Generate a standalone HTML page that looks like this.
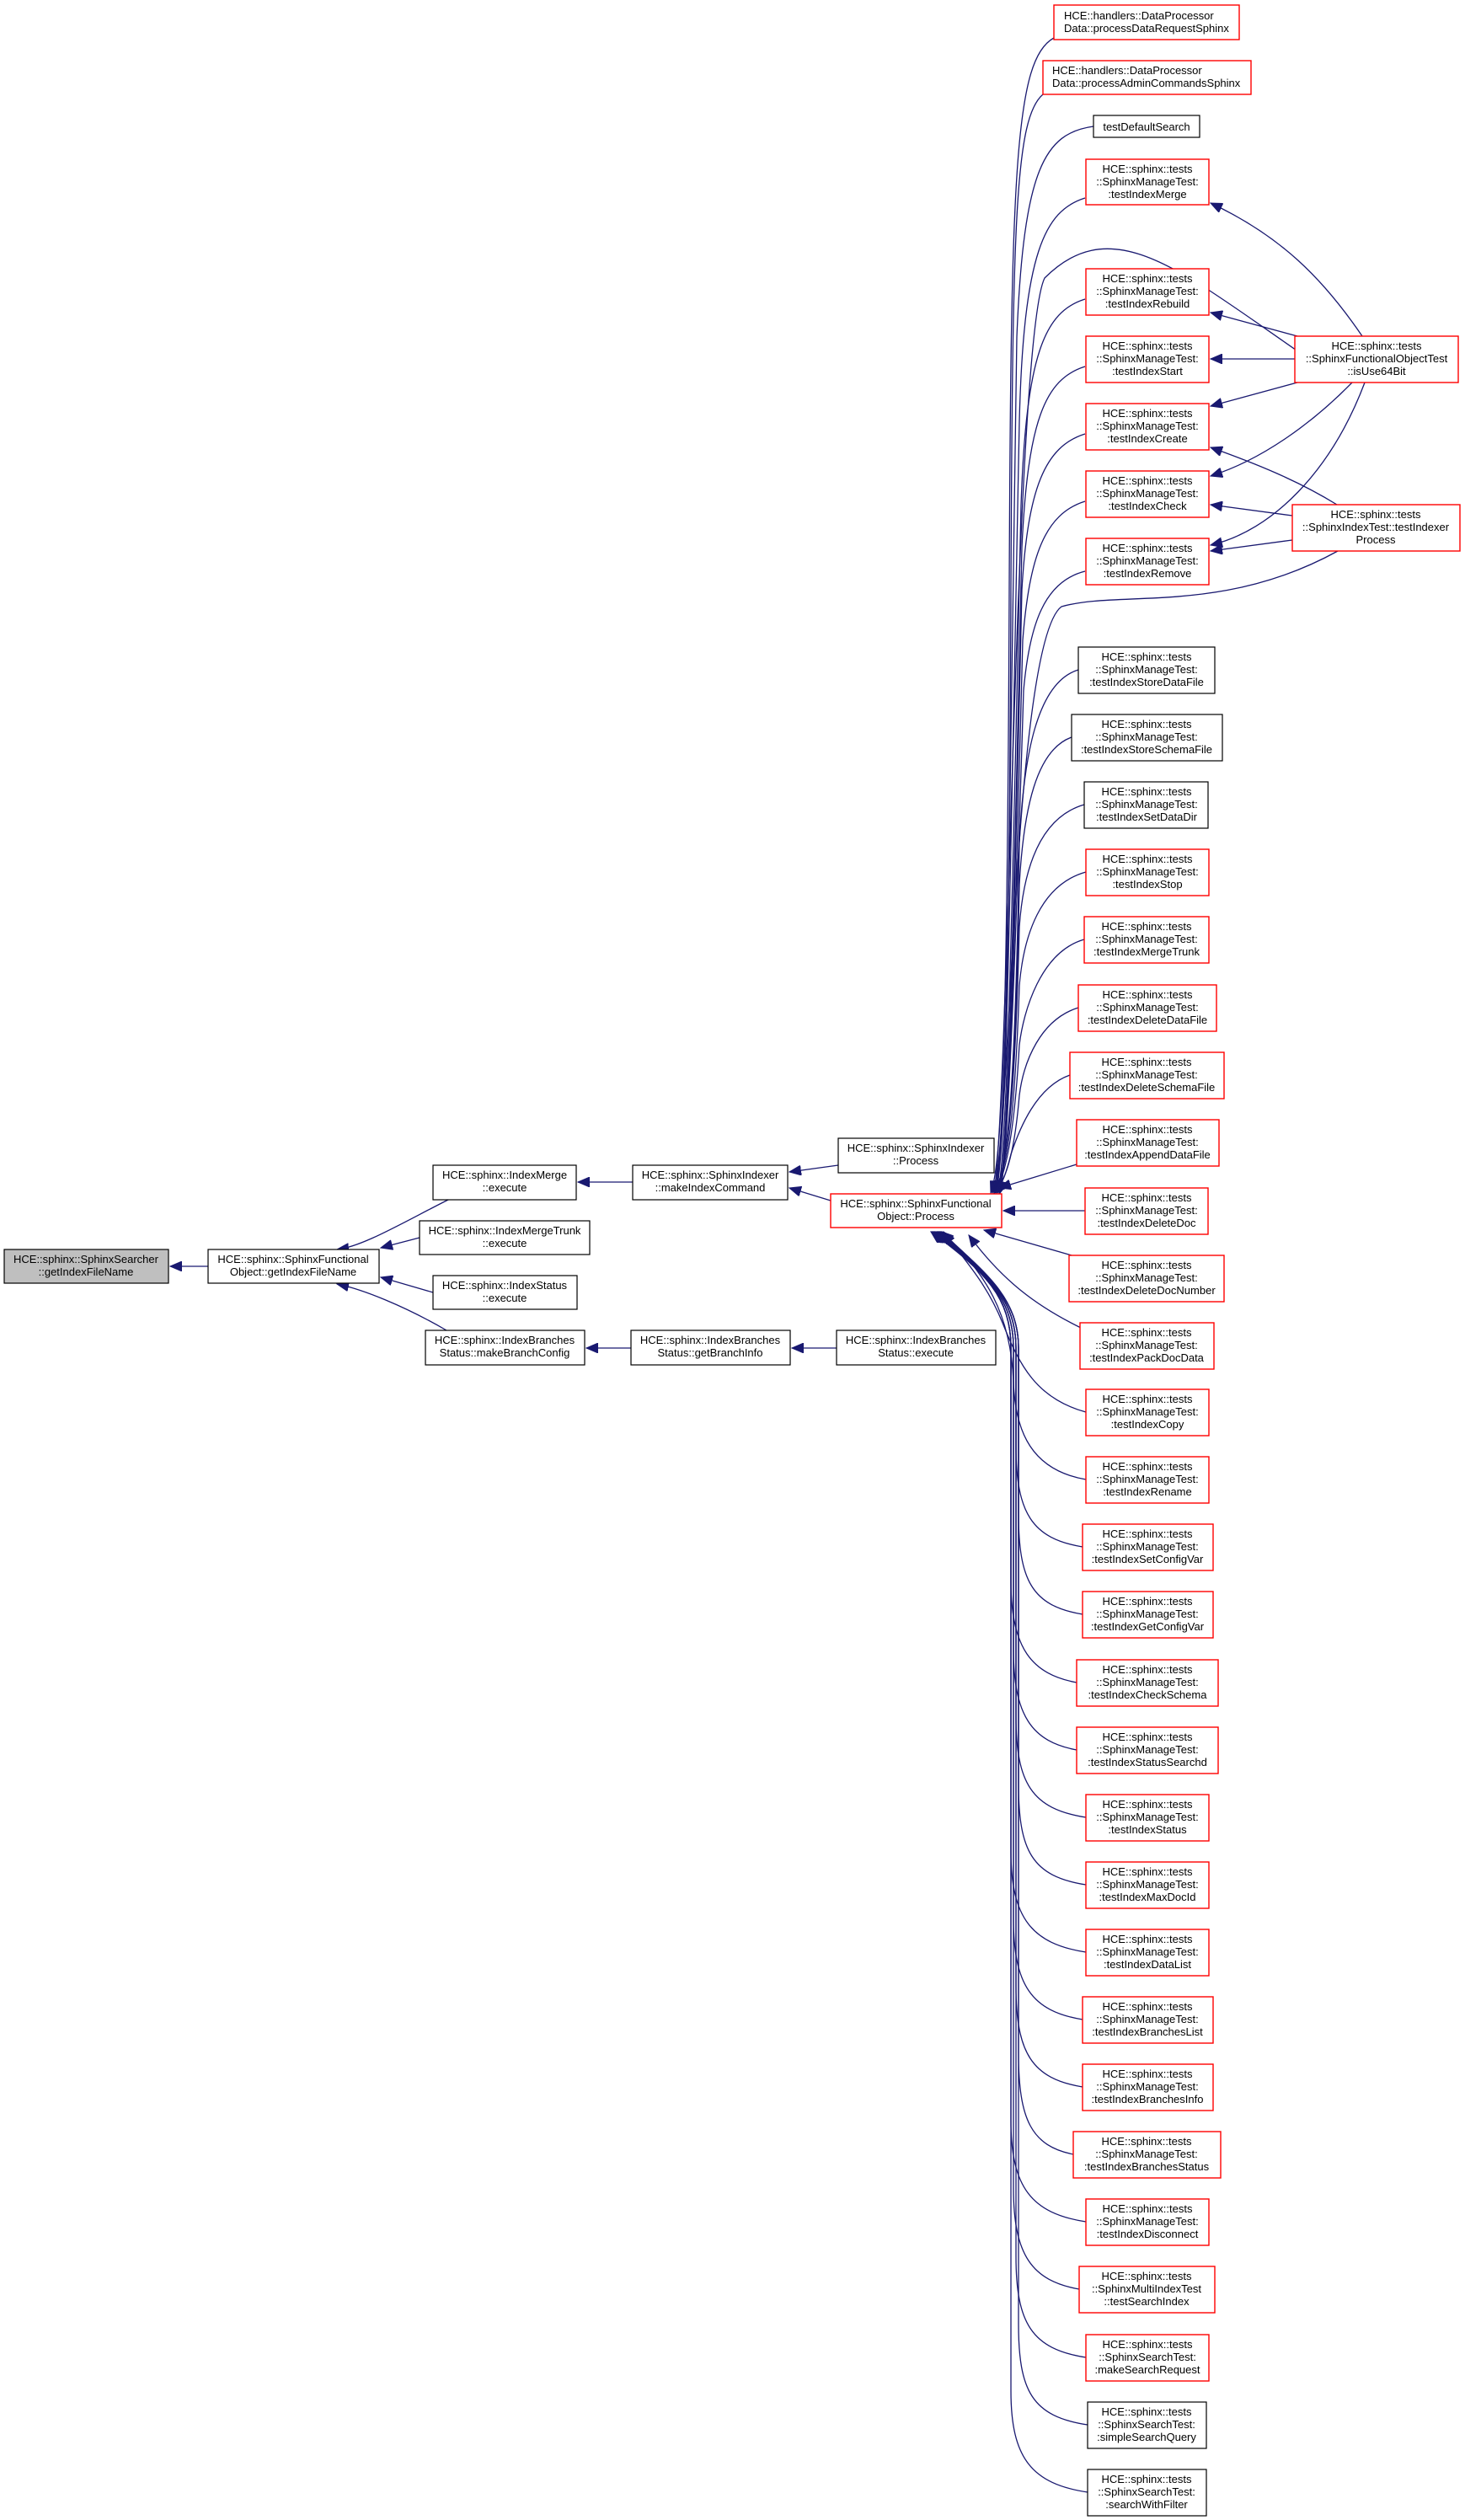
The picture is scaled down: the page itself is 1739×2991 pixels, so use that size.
<!DOCTYPE html>
<html><head><meta charset="utf-8"><style>
html,body{margin:0;padding:0;background:#fff;}
svg{display:block;}
text{font-family:"Liberation Sans",sans-serif;font-size:13px;fill:#000;}
.b{fill:#fff;stroke:#000;stroke-width:1.2;}
.r{fill:#fff;stroke:#ff0000;stroke-width:1.4;}
.g{fill:#bfbfbf;stroke:#000;stroke-width:1.2;}
.e{fill:none;stroke:#191970;stroke-width:1.3;marker-end:url(#ah);}
</style></head><body>
<svg width="1739" height="2991" viewBox="0 0 1739 2991" xmlns="http://www.w3.org/2000/svg">
<defs><marker id="ah" markerUnits="userSpaceOnUse" markerWidth="16" markerHeight="12" refX="14" refY="6" orient="auto"><path d="M0,0 L14,6 L0,12 z" fill="#191970" stroke="#191970"/></marker></defs>

<!-- edges left -->
<path class="e" d="M247,1503 L202,1503"/>
<path class="e" d="M534,1423 C480,1450 430,1480 400,1483"/>
<path class="e" d="M498,1469 L452,1481"/>
<path class="e" d="M514,1534 L452,1516"/>
<path class="e" d="M530,1579 C480,1550 430,1530 400,1524"/>
<path class="e" d="M751,1403 L686,1403"/>
<path class="e" d="M995,1383 L937,1391"/>
<path class="e" d="M986,1425 L937,1410"/>
<path class="e" d="M749,1600 L696,1600"/>
<path class="e" d="M993,1600 L940,1600"/>

<!-- edges to Process from top nodes -->
<path class="e" d="M1251,45 C1205,70 1200,200 1198,700 C1196,1200 1190,1380 1176,1416"/>
<path class="e" d="M1238,112 C1205,140 1202,260 1200,700 C1198,1200 1192,1380 1178,1416"/>
<path class="e" d="M1298,150 C1240,158 1215,200 1207,400 C1198,1000 1195,1380 1180,1416"/>
<path class="e" d="M1288,235 C1240,250 1215,300 1210,500 C1200,1000 1195,1380 1182,1416"/>
<path class="e" d="M1288,355 C1240,370 1218,420 1212,600 C1202,1050 1196,1380 1184,1416"/>
<path class="e" d="M1288,435 C1240,450 1220,500 1213,650 C1203,1100 1196,1380 1186,1416"/>
<path class="e" d="M1288,515 C1240,530 1220,580 1213,700 C1203,1150 1196,1380 1186,1416"/>
<path class="e" d="M1288,595 C1240,610 1222,660 1214,760 C1204,1150 1196,1380 1187,1416"/>
<path class="e" d="M1288,678 C1240,690 1222,740 1215,820 C1205,1150 1196,1380 1187,1416"/>
<path class="e" d="M1545,420 C1400,320 1320,250 1240,330 C1205,400 1198,1300 1180,1416"/>
<path class="e" d="M1588,654 C1450,730 1330,700 1260,720 C1205,760 1200,1300 1182,1416"/>
<path class="e" d="M1280,795 C1230,810 1215,900 1210,1000 C1205,1300 1196,1390 1180,1416"/>
<path class="e" d="M1272,875 C1230,890 1215,960 1210,1050 C1205,1300 1196,1390 1180,1416"/>
<path class="e" d="M1287,955 C1235,970 1215,1030 1210,1100 C1205,1300 1196,1390 1180,1416"/>
<path class="e" d="M1289,1035 C1235,1050 1215,1110 1210,1170 C1205,1320 1196,1390 1180,1416"/>
<path class="e" d="M1287,1115 C1235,1130 1215,1200 1210,1240 C1205,1330 1196,1395 1180,1416"/>
<path class="e" d="M1280,1196 C1235,1210 1215,1260 1210,1300 C1205,1360 1196,1400 1180,1416"/>
<path class="e" d="M1270,1276 C1230,1290 1210,1340 1200,1370 C1195,1390 1190,1405 1182,1416"/>
<path class="e" d="M1278,1382 L1186,1410"/>
<path class="e" d="M1288,1437 L1191,1437"/>
<path class="e" d="M1272,1490 L1168,1460"/>
<path class="e" d="M1283,1576 C1230,1550 1190,1520 1150,1466"/>
<!-- edges to Process from lower nodes -->
<path class="e" d="M1289,1676 C1230,1660 1210,1620 1190,1570 C1170,1520 1140,1490 1120,1462"/>
<path class="e" d="M1289,1756 C1225,1745 1205,1700 1203,1640 C1200,1560 1170,1510 1118,1462"/>
<path class="e" d="M1285,1836 C1225,1826 1206,1796 1206,1716 L1206,1600 C1206,1540 1170,1510 1117,1462"/>
<path class="e" d="M1285,1916 C1225,1906 1209,1876 1209,1796 L1209,1600 C1209,1540 1170,1510 1116,1462"/>
<path class="e" d="M1278,1997 C1225,1987 1200,1957 1200,1877 L1200,1600 C1200,1540 1170,1510 1115,1462"/>
<path class="e" d="M1278,2077 C1225,2067 1203,2037 1203,1957 L1203,1600 C1203,1540 1170,1510 1114,1462"/>
<path class="e" d="M1289,2157 C1225,2147 1206,2117 1206,2037 L1206,1600 C1206,1540 1170,1510 1113,1462"/>
<path class="e" d="M1289,2237 C1225,2227 1209,2197 1209,2117 L1209,1600 C1209,1540 1170,1510 1112,1462"/>
<path class="e" d="M1289,2317 C1225,2307 1200,2277 1200,2197 L1200,1600 C1200,1540 1170,1510 1111,1462"/>
<path class="e" d="M1285,2397 C1225,2387 1203,2357 1203,2277 L1203,1600 C1203,1540 1170,1510 1110,1462"/>
<path class="e" d="M1285,2477 C1225,2467 1206,2437 1206,2357 L1206,1600 C1206,1540 1170,1510 1110,1462"/>
<path class="e" d="M1274,2557 C1225,2547 1209,2517 1209,2437 L1209,1600 C1209,1540 1170,1510 1109,1462"/>
<path class="e" d="M1289,2637 C1225,2627 1200,2597 1200,2517 L1200,1600 C1200,1540 1170,1510 1108,1462"/>
<path class="e" d="M1281,2717 C1225,2707 1203,2677 1203,2597 L1203,1600 C1203,1540 1170,1510 1108,1462"/>
<path class="e" d="M1289,2798 C1225,2788 1206,2758 1206,2678 L1206,1600 C1206,1540 1170,1510 1107,1462"/>
<path class="e" d="M1291,2878 C1225,2868 1209,2838 1209,2758 L1209,1600 C1209,1540 1170,1510 1106,1462"/>
<path class="e" d="M1291,2958 C1225,2948 1200,2918 1200,2838 L1200,1600 C1200,1540 1170,1510 1105,1462"/>

<!-- right edges -->
<path class="e" d="M1617,399 C1570,330 1520,280 1437,241"/>
<path class="e" d="M1540,399 L1437,371"/>
<path class="e" d="M1537,426 L1437,426"/>
<path class="e" d="M1540,454 L1437,482"/>
<path class="e" d="M1605,454 C1560,500 1500,545 1437,565"/>
<path class="e" d="M1620,454 C1580,560 1510,630 1437,647"/>
<path class="e" d="M1587,599 C1540,570 1490,550 1437,531"/>
<path class="e" d="M1534,612 L1437,599"/>
<path class="e" d="M1534,641 L1437,654"/>

<!-- left nodes -->
<rect class="g" x="5" y="1483" width="195" height="40"/>
<text x="102" y="1499" text-anchor="middle">HCE::sphinx::SphinxSearcher</text><text x="102" y="1514" text-anchor="middle">::getIndexFileName</text>
<rect class="b" x="247" y="1483" width="203" height="40"/>
<text x="348" y="1499" text-anchor="middle">HCE::sphinx::SphinxFunctional</text><text x="348" y="1514" text-anchor="middle">Object::getIndexFileName</text>
<rect class="b" x="514" y="1383" width="170" height="41"/>
<text x="599" y="1399" text-anchor="middle">HCE::sphinx::IndexMerge</text><text x="599" y="1414" text-anchor="middle">::execute</text>
<rect class="b" x="498" y="1449" width="202" height="40"/>
<text x="599" y="1465" text-anchor="middle">HCE::sphinx::IndexMergeTrunk</text><text x="599" y="1480" text-anchor="middle">::execute</text>
<rect class="b" x="514" y="1514" width="171" height="40"/>
<text x="599" y="1530" text-anchor="middle">HCE::sphinx::IndexStatus</text><text x="599" y="1545" text-anchor="middle">::execute</text>
<rect class="b" x="505" y="1579" width="189" height="41"/>
<text x="599" y="1595" text-anchor="middle">HCE::sphinx::IndexBranches</text><text x="599" y="1610" text-anchor="middle">Status::makeBranchConfig</text>
<rect class="b" x="751" y="1383" width="184" height="41"/>
<text x="843" y="1399" text-anchor="middle">HCE::sphinx::SphinxIndexer</text><text x="843" y="1414" text-anchor="middle">::makeIndexCommand</text>
<rect class="b" x="749" y="1579" width="189" height="41"/>
<text x="843" y="1595" text-anchor="middle">HCE::sphinx::IndexBranches</text><text x="843" y="1610" text-anchor="middle">Status::getBranchInfo</text>
<rect class="b" x="995" y="1351" width="185" height="41"/>
<text x="1087" y="1367" text-anchor="middle">HCE::sphinx::SphinxIndexer</text><text x="1087" y="1382" text-anchor="middle">::Process</text>
<rect class="r" x="986" y="1417" width="203" height="40"/>
<text x="1087" y="1433" text-anchor="middle">HCE::sphinx::SphinxFunctional</text><text x="1087" y="1448" text-anchor="middle">Object::Process</text>
<rect class="b" x="993" y="1579" width="189" height="41"/>
<text x="1087" y="1595" text-anchor="middle">HCE::sphinx::IndexBranches</text><text x="1087" y="1610" text-anchor="middle">Status::execute</text>

<!-- top right nodes -->
<rect class="r" x="1251" y="6" width="220" height="41"/>
<text x="1263" y="23">HCE::handlers::DataProcessor</text><text x="1263" y="38">Data::processDataRequestSphinx</text>
<rect class="r" x="1238" y="72" width="247" height="40"/>
<text x="1249" y="88">HCE::handlers::DataProcessor</text><text x="1249" y="103">Data::processAdminCommandsSphinx</text>
<rect class="b" x="1298" y="137" width="126" height="26"/>
<text x="1361" y="155" text-anchor="middle">testDefaultSearch</text>

<g text-anchor="middle">
<rect class="r" x="1289" y="189" width="146" height="54"/><text x="1362" y="205">HCE::sphinx::tests</text><text x="1362" y="220">::SphinxManageTest:</text><text x="1362" y="235">:testIndexMerge</text>
<rect class="r" x="1289" y="319" width="146" height="55"/><text x="1362" y="335">HCE::sphinx::tests</text><text x="1362" y="350">::SphinxManageTest:</text><text x="1362" y="365">:testIndexRebuild</text>
<rect class="r" x="1289" y="399" width="146" height="55"/><text x="1362" y="415">HCE::sphinx::tests</text><text x="1362" y="430">::SphinxManageTest:</text><text x="1362" y="445">:testIndexStart</text>
<rect class="r" x="1289" y="479" width="146" height="55"/><text x="1362" y="495">HCE::sphinx::tests</text><text x="1362" y="510">::SphinxManageTest:</text><text x="1362" y="525">:testIndexCreate</text>
<rect class="r" x="1289" y="559" width="146" height="55"/><text x="1362" y="575">HCE::sphinx::tests</text><text x="1362" y="590">::SphinxManageTest:</text><text x="1362" y="605">:testIndexCheck</text>
<rect class="r" x="1289" y="639" width="146" height="55"/><text x="1362" y="655">HCE::sphinx::tests</text><text x="1362" y="670">::SphinxManageTest:</text><text x="1362" y="685">:testIndexRemove</text>

<rect class="r" x="1537" y="399" width="194" height="55"/><text x="1634" y="415">HCE::sphinx::tests</text><text x="1634" y="430">::SphinxFunctionalObjectTest</text><text x="1634" y="445">::isUse64Bit</text>
<rect class="r" x="1534" y="599" width="199" height="55"/><text x="1633" y="615">HCE::sphinx::tests</text><text x="1633" y="630">::SphinxIndexTest::testIndexer</text><text x="1633" y="645">Process</text>

<rect class="b" x="1280" y="768" width="162" height="55"/><text x="1361" y="784">HCE::sphinx::tests</text><text x="1361" y="799">::SphinxManageTest:</text><text x="1361" y="814">:testIndexStoreDataFile</text>
<rect class="b" x="1272" y="848" width="179" height="55"/><text x="1361" y="864">HCE::sphinx::tests</text><text x="1361" y="879">::SphinxManageTest:</text><text x="1361" y="894">:testIndexStoreSchemaFile</text>
<rect class="b" x="1287" y="928" width="147" height="55"/><text x="1361" y="944">HCE::sphinx::tests</text><text x="1361" y="959">::SphinxManageTest:</text><text x="1361" y="974">:testIndexSetDataDir</text>
<rect class="r" x="1289" y="1008" width="146" height="55"/><text x="1362" y="1024">HCE::sphinx::tests</text><text x="1362" y="1039">::SphinxManageTest:</text><text x="1362" y="1054">:testIndexStop</text>
<rect class="r" x="1287" y="1088" width="148" height="55"/><text x="1361" y="1104">HCE::sphinx::tests</text><text x="1361" y="1119">::SphinxManageTest:</text><text x="1361" y="1134">:testIndexMergeTrunk</text>
<rect class="r" x="1280" y="1169" width="164" height="55"/><text x="1362" y="1185">HCE::sphinx::tests</text><text x="1362" y="1200">::SphinxManageTest:</text><text x="1362" y="1215">:testIndexDeleteDataFile</text>
<rect class="r" x="1270" y="1249" width="183" height="55"/><text x="1361" y="1265">HCE::sphinx::tests</text><text x="1361" y="1280">::SphinxManageTest:</text><text x="1361" y="1295">:testIndexDeleteSchemaFile</text>
<rect class="r" x="1278" y="1329" width="169" height="55"/><text x="1362" y="1345">HCE::sphinx::tests</text><text x="1362" y="1360">::SphinxManageTest:</text><text x="1362" y="1375">:testIndexAppendDataFile</text>
<rect class="r" x="1288" y="1410" width="146" height="55"/><text x="1361" y="1426">HCE::sphinx::tests</text><text x="1361" y="1441">::SphinxManageTest:</text><text x="1361" y="1456">:testIndexDeleteDoc</text>
<rect class="r" x="1269" y="1490" width="184" height="55"/><text x="1361" y="1506">HCE::sphinx::tests</text><text x="1361" y="1521">::SphinxManageTest:</text><text x="1361" y="1536">:testIndexDeleteDocNumber</text>
<rect class="r" x="1282" y="1570" width="159" height="55"/><text x="1361" y="1586">HCE::sphinx::tests</text><text x="1361" y="1601">::SphinxManageTest:</text><text x="1361" y="1616">:testIndexPackDocData</text>
<rect class="r" x="1289" y="1649" width="146" height="55"/><text x="1362" y="1665">HCE::sphinx::tests</text><text x="1362" y="1680">::SphinxManageTest:</text><text x="1362" y="1695">:testIndexCopy</text>
<rect class="r" x="1289" y="1729" width="146" height="55"/><text x="1362" y="1745">HCE::sphinx::tests</text><text x="1362" y="1760">::SphinxManageTest:</text><text x="1362" y="1775">:testIndexRename</text>
<rect class="r" x="1285" y="1809" width="155" height="55"/><text x="1362" y="1825">HCE::sphinx::tests</text><text x="1362" y="1840">::SphinxManageTest:</text><text x="1362" y="1855">:testIndexSetConfigVar</text>
<rect class="r" x="1285" y="1889" width="155" height="55"/><text x="1362" y="1905">HCE::sphinx::tests</text><text x="1362" y="1920">::SphinxManageTest:</text><text x="1362" y="1935">:testIndexGetConfigVar</text>
<rect class="r" x="1278" y="1970" width="168" height="55"/><text x="1362" y="1986">HCE::sphinx::tests</text><text x="1362" y="2001">::SphinxManageTest:</text><text x="1362" y="2016">:testIndexCheckSchema</text>
<rect class="r" x="1278" y="2050" width="168" height="55"/><text x="1362" y="2066">HCE::sphinx::tests</text><text x="1362" y="2081">::SphinxManageTest:</text><text x="1362" y="2096">:testIndexStatusSearchd</text>
<rect class="r" x="1289" y="2130" width="146" height="55"/><text x="1362" y="2146">HCE::sphinx::tests</text><text x="1362" y="2161">::SphinxManageTest:</text><text x="1362" y="2176">:testIndexStatus</text>
<rect class="r" x="1289" y="2210" width="146" height="55"/><text x="1362" y="2226">HCE::sphinx::tests</text><text x="1362" y="2241">::SphinxManageTest:</text><text x="1362" y="2256">:testIndexMaxDocId</text>
<rect class="r" x="1289" y="2290" width="146" height="55"/><text x="1362" y="2306">HCE::sphinx::tests</text><text x="1362" y="2321">::SphinxManageTest:</text><text x="1362" y="2336">:testIndexDataList</text>
<rect class="r" x="1285" y="2370" width="155" height="55"/><text x="1362" y="2386">HCE::sphinx::tests</text><text x="1362" y="2401">::SphinxManageTest:</text><text x="1362" y="2416">:testIndexBranchesList</text>
<rect class="r" x="1285" y="2450" width="155" height="55"/><text x="1362" y="2466">HCE::sphinx::tests</text><text x="1362" y="2481">::SphinxManageTest:</text><text x="1362" y="2496">:testIndexBranchesInfo</text>
<rect class="r" x="1274" y="2530" width="175" height="55"/><text x="1361" y="2546">HCE::sphinx::tests</text><text x="1361" y="2561">::SphinxManageTest:</text><text x="1361" y="2576">:testIndexBranchesStatus</text>
<rect class="r" x="1289" y="2610" width="146" height="55"/><text x="1362" y="2626">HCE::sphinx::tests</text><text x="1362" y="2641">::SphinxManageTest:</text><text x="1362" y="2656">:testIndexDisconnect</text>
<rect class="r" x="1281" y="2690" width="161" height="55"/><text x="1361" y="2706">HCE::sphinx::tests</text><text x="1361" y="2721">::SphinxMultiIndexTest</text><text x="1361" y="2736">::testSearchIndex</text>
<rect class="r" x="1289" y="2771" width="146" height="55"/><text x="1362" y="2787">HCE::sphinx::tests</text><text x="1362" y="2802">::SphinxSearchTest:</text><text x="1362" y="2817">:makeSearchRequest</text>
<rect class="b" x="1291" y="2851" width="141" height="55"/><text x="1361" y="2867">HCE::sphinx::tests</text><text x="1361" y="2882">::SphinxSearchTest:</text><text x="1361" y="2897">:simpleSearchQuery</text>
<rect class="b" x="1291" y="2931" width="141" height="55"/><text x="1361" y="2947">HCE::sphinx::tests</text><text x="1361" y="2962">::SphinxSearchTest:</text><text x="1361" y="2977">:searchWithFilter</text>
</g>
</svg>
</body></html>
